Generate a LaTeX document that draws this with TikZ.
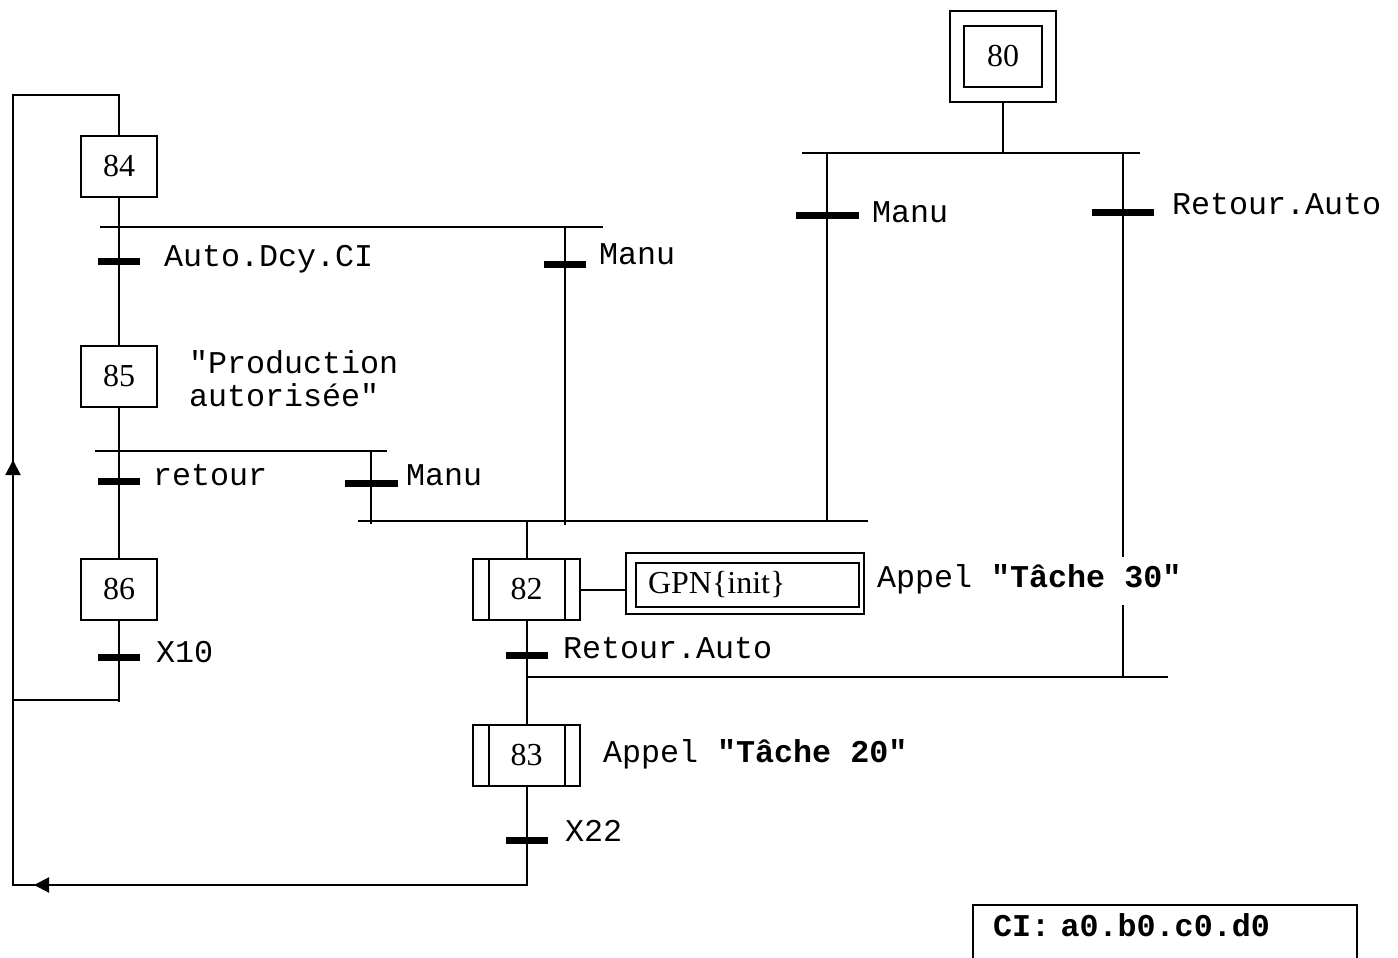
\documentclass[tikz,border=0pt]{standalone}
\usepackage{fontspec}
\setmainfont{Liberation Serif}
\setmonofont{Liberation Mono}
\usetikzlibrary{arrows.meta}
\begin{document}
\begin{tikzpicture}[x=1pt,y=-1pt,line width=2pt,
  stepbox/.style={draw,minimum width=76pt,minimum height=61pt,inner sep=0pt,font=\fontsize{32}{34}\selectfont},
  macrostep/.style={draw,minimum width=107pt,minimum height=61pt,inner sep=0pt,font=\fontsize{32}{34}\selectfont,
    path picture={
      \draw[line width=2pt] ([xshift=16pt]path picture bounding box.north west) -- ([xshift=16pt]path picture bounding box.south west);
      \draw[line width=2pt] ([xshift=-15pt]path picture bounding box.north east) -- ([xshift=-15pt]path picture bounding box.south east);}},
  tbar/.style={fill=black,draw=none,minimum height=7pt,minimum width=42pt,inner sep=0pt,outer sep=0pt},
  lab/.style={font=\ttfamily\fontsize{31.7}{33}\selectfont,inner sep=0pt,anchor=base west},
  arrowtip/.style={-{Triangle[length=15pt,width=15pt]}}]
\useasboundingbox (0,0) rectangle (1398,958);
\clip (0,0) rectangle (1398,958);

% ---------- steps ----------
\node[stepbox] (s84) at (119,166) {84};
\node[stepbox] (s85) at (119,376.5) {85};
\node[stepbox] (s86) at (119,589.5) {86};
\node[stepbox,minimum width=78pt] (s80) at (1003,56.5) {80};
\node[draw,minimum width=106pt,minimum height=91pt,inner sep=0pt] (s80o) at (1003,56.5) {};
\node[macrostep] (s82) at (526.5,589.5) {82};
\node[macrostep] (s83) at (526.5,755.5) {83};
\node[draw,minimum width=238pt,minimum height=61pt,inner sep=0pt] (gpno) at (745,583.5) {};
\node[draw,minimum width=223pt,minimum height=44pt,text width=199pt,inner xsep=12pt,inner ysep=0pt,align=left,
      font=\fontsize{32}{34}\selectfont] (gpn) at (747.5,585) {GPN\{init\}};

% ---------- transitions ----------
\node[tbar] (t84) at (119,261) {};
\node[tbar] (tM1) at (565,264) {};
\node[tbar] (tret) at (119,481) {};
\node[tbar,minimum width=53pt] (tM2) at (371,483) {};
\node[tbar,minimum width=63pt] (tM3) at (827,215) {};
\node[tbar,minimum width=62pt] (tRA1) at (1123,212) {};
\node[tbar] (tRA2) at (526.5,655) {};
\node[tbar] (tX10) at (119,657) {};
\node[tbar] (tX22) at (526.5,840) {};

% ---------- junction coordinates ----------
\coordinate (d1a) at (100,227);  \coordinate (d1b) at (603,227);
\coordinate (b1t) at (565,227);  \coordinate (b1b) at (565,525);
\coordinate (d2a) at (95,451);   \coordinate (d2b) at (387,451);
\coordinate (b2t) at (371,451);  \coordinate (b2b) at (371,524);
\coordinate (c1a) at (358,521);  \coordinate (c1b) at (868,521);
\coordinate (c82) at (526.5,521);
\coordinate (d3a) at (802,153);  \coordinate (d3b) at (1140,153);
\coordinate (d3c) at (1003,153);
\coordinate (b3t) at (827,153);  \coordinate (b3b) at (827,521);
\coordinate (b4t) at (1123,153); \coordinate (b4b) at (1123,677);
\coordinate (c2a) at (526.5,677);  \coordinate (c2b) at (1168,677);
\coordinate (e86) at (119,702);  \coordinate (h86) at (119,700); \coordinate (l700) at (13,700);
\coordinate (b83) at (526.5,885);  \coordinate (lb) at (13,885);
\coordinate (lt) at (13,95);     \coordinate (tt) at (119,95);
\coordinate (ab) at (118,885);   \coordinate (abt) at (34,885);
\coordinate (al) at (13,553);    \coordinate (alt) at (13,460);

% ---------- connectors ----------
\draw (s84.south) -- (t84) -- (s85.north);
\draw (d1a) -- (d1b);
\draw (b1t) -- (tM1) -- (b1b);
\draw (s85.south) -- (tret) -- (s86.north);
\draw (d2a) -- (d2b);
\draw (b2t) -- (tM2) -- (b2b);
\draw (c1a) -- (c1b);
\draw (c82) -- (s82.north);
\draw (s80o.south) -- (d3c);
\draw (d3a) -- (d3b);
\draw (b3t) -- (tM3) -- (b3b);
\draw (b4t) -- (tRA1) -- (b4b);
\draw (s82.east) -- (s82.east -| gpno.west);
\draw (s82.south) -- (tRA2) -- (s83.north);
\draw (c2a) -- (c2b);
\draw (s86.south) -- (tX10) -- (e86);
\draw (h86) -- (l700);
\draw (s83.south) -- (tX22) -- (b83) -- (lb) -- (lt) -- (tt) -- (s84.north);
\draw[arrowtip] (ab) -- (abt);
\draw[arrowtip] (al) -- (alt);

% ---------- labels ----------
\node[lab] (l1) at (163,266) {Auto.Dcy.CI};
\node[lab] (l2) at (598,264) {Manu};
\node[lab,anchor=north west,align=left] (l3) at (188,350) {"Production\\autorisée"};
\node[lab] (l4) at (152,485) {retour};
\node[lab] (l5) at (405,485) {Manu};
\node[lab] (l6) at (871,222) {Manu};
\node[lab] (l7) at (1171,214) {Retour.Auto};
\node[lab] (l8) at (562,658) {Retour.Auto};
\node[lab] (l9) at (155,662) {X10};
\node[lab] (l10) at (564,841) {X22};
\node[lab] (l11) at (602,762) {Appel \textbf{"Tâche 20"}};
\node[lab,fill=white,text height=20pt,text depth=8pt,inner ysep=10pt,inner xsep=2pt] (l12) at (874,587) {Appel \textbf{"Tâche 30"}};
\node[draw,anchor=north west,inner xsep=20pt,inner ysep=0pt,text width=344pt,text height=31pt,text depth=40pt,align=left,
      font=\ttfamily\bfseries\fontsize{31.7}{33}\selectfont] (ci) at (972,904) {CI: a0.b0.c0.d0};
\end{tikzpicture}
\end{document}
